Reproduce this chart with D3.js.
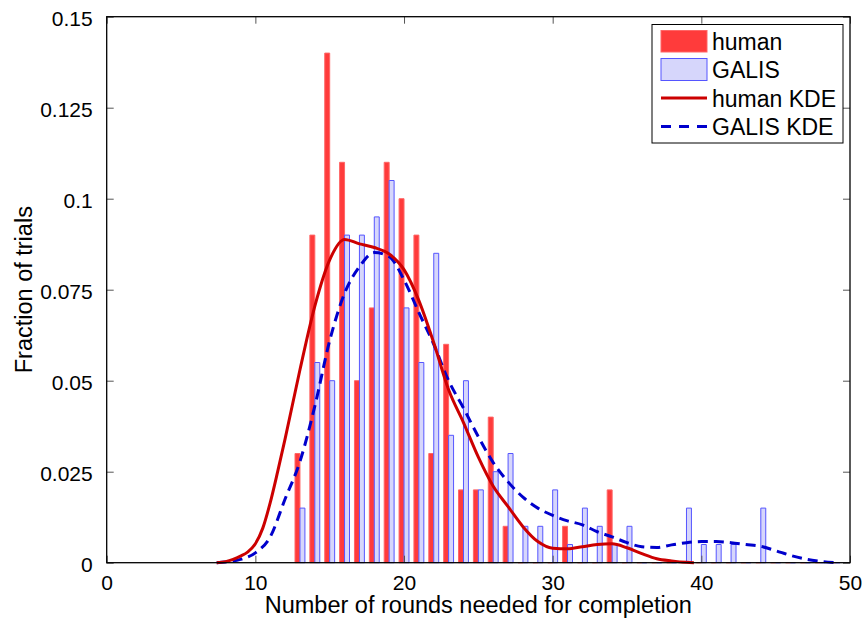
<!DOCTYPE html>
<html>
<head>
<meta charset="utf-8">
<script src="https://cdn.jsdelivr.net/npm/d3@7"></script>
<style>
  html, body { margin: 0; padding: 0; background: #fff; }
  svg { display: block; font-family: "Liberation Sans", Arial, Helvetica, sans-serif; }
</style>
</head>
<body>
<svg id="chart" width="867" height="621"></svg>
<script>
// ---- data ----
const bins = d3.range(13, 50);
const humanFrac = [0.03, 0.09, 0.14, 0.11, 0.05, 0.07, 0.11, 0.10, 0.09, 0.03, 0.06, 0.02, 0.02, 0.04, 0.01,
  0, 0, 0, 0.01, 0, 0, 0.02, 0, 0, 0, 0, 0, 0, 0, 0, 0, 0, 0, 0, 0, 0, 0];
const galisFrac = [0.015, 0.055, 0.05, 0.09, 0.09, 0.095, 0.105, 0.07, 0.055, 0.085, 0.035, 0.05, 0.02, 0.025, 0.03,
  0.01, 0.01, 0.02, 0.005, 0.015, 0.01, 0.005, 0.01, 0, 0, 0, 0.015, 0.005, 0.005, 0.005, 0, 0.015, 0, 0, 0, 0, 0];

const humanKdeX = [7.4, 8, 8.5, 9, 9.5, 10, 10.5, 11, 11.5, 12, 13, 14, 15, 16, 17, 18, 19, 20, 21, 22, 23, 24, 25,
  26, 27, 28, 29, 30, 31, 32, 33, 34, 35, 36, 37, 38, 39, 39.5];
const humanKde = [0, 0.0003, 0.0009, 0.0018, 0.003, 0.0052, 0.0095, 0.0165, 0.025, 0.034, 0.053, 0.0705, 0.0832,
  0.0888, 0.0876, 0.0866, 0.0848, 0.0805, 0.072, 0.0604, 0.0475, 0.0385, 0.029, 0.021, 0.0154, 0.0099, 0.0058,
  0.004, 0.0038, 0.0044, 0.005, 0.0052, 0.0041, 0.0025, 0.0011, 0.0005, 0.0001, 0];

const galisKdeX = [7.4, 8, 9, 10, 11, 12, 13, 14, 15, 16, 17, 18, 19, 20, 21, 22, 23, 24, 25, 26, 27, 28, 29,
  30, 31, 32, 33, 34, 35, 36, 37, 38, 39, 40, 41, 42, 43, 44, 45, 46, 47, 48, 49];
const galisKde = [0, 0.0002, 0.0009, 0.0027, 0.0071, 0.0175, 0.0278, 0.043, 0.061, 0.074, 0.0813, 0.0852, 0.0841,
  0.0777, 0.0687, 0.060, 0.050, 0.0425, 0.0346, 0.0275, 0.0222, 0.018, 0.015, 0.013, 0.0115, 0.0104, 0.0085,
  0.0071, 0.0055, 0.0044, 0.0042, 0.0049, 0.0055, 0.0058, 0.0058, 0.0055, 0.005, 0.0045, 0.0033, 0.002, 0.001,
  0.0004, 0];

const xTicks = [0, 10, 20, 30, 40, 50];
const yTicks = [0, 0.025, 0.05, 0.075, 0.1, 0.125, 0.15];
const yTickLabels = ["0", "0.025", "0.05", "0.075", "0.1", "0.125", "0.15"];
const legendLabels = ["human", "GALIS", "human KDE", "GALIS KDE"];

// ---- layout ----
const L = 106.7, R = 850, T = 16.7, B = 562.7;
const svg = d3.select("#chart");
const x = d3.scaleLinear().domain([0, 50]).range([L, R]);
const y = d3.scaleLinear().domain([0, 0.15]).range([B, T]);
const bw = x(1) - x(0);
const barW = bw / 3;

const redFill = "#ff3b3b", redEdge = "#ff6666";
const blueFill = "#d6d6fb", blueEdge = "#5555ff";
const kdeRed = "#cc0000", kdeBlue = "#0000cc";

function barPath(x0, x1, v) {
  const y0 = y(0), y1 = y(v);
  return `M${x0},${y0}V${y1}H${x1}V${y0}Z`;
}

// bars
const g = svg.append("g");
g.selectAll("path.h").data(bins).join("path")
  .attr("class", "h")
  .attr("d", (d, i) => barPath(x(d) - barW, x(d), humanFrac[i]))
  .attr("fill", redFill).attr("stroke", redEdge).attr("stroke-width", 1);
g.selectAll("path.g").data(bins).join("path")
  .attr("class", "g")
  .attr("d", (d, i) => barPath(x(d), x(d) + barW, galisFrac[i]))
  .attr("fill", blueFill).attr("stroke", blueEdge).attr("stroke-width", 1);

// KDE lines
const lineGen = d3.line().curve(d3.curveMonotoneX);
svg.append("path")
  .attr("d", lineGen(galisKdeX.map((v, i) => [x(v), y(galisKde[i])])))
  .attr("fill", "none").attr("stroke", kdeBlue).attr("stroke-width", 3)
  .attr("stroke-dasharray", "10,6");
svg.append("path")
  .attr("d", lineGen(humanKdeX.map((v, i) => [x(v), y(humanKde[i])])))
  .attr("fill", "none").attr("stroke", kdeRed).attr("stroke-width", 3);

// axes (box with inward ticks on all sides)
const tickLen = 7;
const axB = svg.append("g").attr("transform", `translate(0,${B})`)
  .call(d3.axisBottom(x).tickValues(xTicks).tickSize(-tickLen).tickPadding(12).tickFormat(d3.format("d")));
const axT = svg.append("g").attr("transform", `translate(0,${T})`)
  .call(d3.axisTop(x).tickValues(xTicks).tickSize(-tickLen).tickFormat(""));
const axL = svg.append("g").attr("transform", `translate(${L},0)`)
  .call(d3.axisLeft(y).tickValues(yTicks).tickSize(-tickLen).tickPadding(14)
    .tickFormat((d, i) => yTickLabels[i]));
const axR = svg.append("g").attr("transform", `translate(${R},0)`)
  .call(d3.axisRight(y).tickValues(yTicks).tickSize(-tickLen).tickFormat(""));
[axB, axT, axL, axR].forEach(a => {
  a.select(".domain").remove();
  a.selectAll(".tick line").attr("stroke", "#555").attr("stroke-width", 1);
  a.selectAll("text").attr("fill", "#000").style("font-size", "21px")
    .style("font-family", '"Liberation Sans", Arial, Helvetica, sans-serif');
});
axL.selectAll("text").attr("dy", "0.42em");
svg.append("rect").attr("x", L).attr("y", T).attr("width", R - L).attr("height", B - T)
  .attr("fill", "none").attr("stroke", "#000").attr("stroke-width", 1.3);

// axis labels
svg.append("text").attr("x", (L + R) / 2).attr("y", 613).attr("text-anchor", "middle")
  .style("font-size", "23.5px").text("Number of rounds needed for completion");
svg.append("text").attr("transform", `translate(32,${(T + B) / 2}) rotate(-90)`)
  .attr("text-anchor", "middle").style("font-size", "23.5px").text("Fraction of trials");

// legend
const lg = svg.append("g");
lg.append("rect").attr("x", 652).attr("y", 24.5).attr("width", 191).attr("height", 118.5)
  .attr("fill", "#fff").attr("stroke", "#000").attr("stroke-width", 1);
const rowsY = [41, 69.5, 98, 126.5];
lg.append("rect").attr("x", 661).attr("y", 30.5).attr("width", 46).attr("height", 21.5)
  .attr("fill", redFill).attr("stroke", redEdge);
lg.append("rect").attr("x", 661).attr("y", 58.5).attr("width", 46).attr("height", 22)
  .attr("fill", blueFill).attr("stroke", blueEdge);
lg.append("line").attr("x1", 661).attr("x2", 707).attr("y1", rowsY[2]).attr("y2", rowsY[2])
  .attr("stroke", kdeRed).attr("stroke-width", 3);
lg.append("line").attr("x1", 661).attr("x2", 707).attr("y1", rowsY[3]).attr("y2", rowsY[3])
  .attr("stroke", kdeBlue).attr("stroke-width", 3).attr("stroke-dasharray", "10,8");
lg.selectAll("text.lab").data(legendLabels).join("text")
  .attr("class", "lab")
  .attr("x", 712).attr("y", (d, i) => rowsY[i] + 8.5)
  .style("font-size", "23px").text(d => d);
</script>
</body>
</html>
